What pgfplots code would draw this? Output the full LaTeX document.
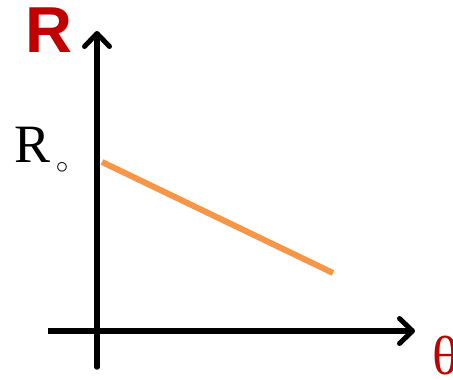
\documentclass[border=0pt]{standalone}
\usepackage{pgfplots}
\pgfplotsset{compat=1.18}
\usepackage{fontspec}
\setmainfont{Liberation Serif}
\newfontfamily\arialfont{Liberation Sans}
\usetikzlibrary{arrows.meta}
\definecolor{darkred}{RGB}{192,0,0}
\definecolor{lineorange}{RGB}{247,150,70}
\begin{document}
\begin{tikzpicture}
\begin{axis}[
  name=ax,
  scale only axis,
  width=453pt, height=380pt,
  xmin=0, xmax=453, ymin=0, ymax=380,
  hide axis,
  clip=false,
]
% axes drawn as arrows
\addplot[line width=5.5pt, black, line cap=round, -{Straight Barb[length=13pt, width=25pt, line width=5pt, round]}] coordinates {(97,13) (97,349)};
\addplot[line width=5.5pt, black, -{Straight Barb[length=13pt, width=25pt, line width=5pt, round]}] coordinates {(48,49) (415,49)};
% R versus theta (decreasing straight line)
\addplot[line width=6pt, lineorange] coordinates {(102,218) (333,107)};
% labels
\node[inner sep=0pt, text=darkred] at (axis cs:48.5,349.5) {\arialfont\bfseries\fontsize{65}{65}\selectfont R};
\node[inner sep=0pt] at (axis cs:32.5,235.5) {\fontsize{54}{54}\selectfont R};
\node[inner sep=0pt] at (axis cs:62,212) {\fontsize{30}{30}\selectfont$\circ$};
\node[inner sep=0pt, text=darkred] at (axis cs:446,24) {\fontsize{55}{55}\selectfont θ};
\end{axis}
\pgfresetboundingbox
\path[use as bounding box] (ax.south west) rectangle (ax.north east);
\end{tikzpicture}
\end{document}
